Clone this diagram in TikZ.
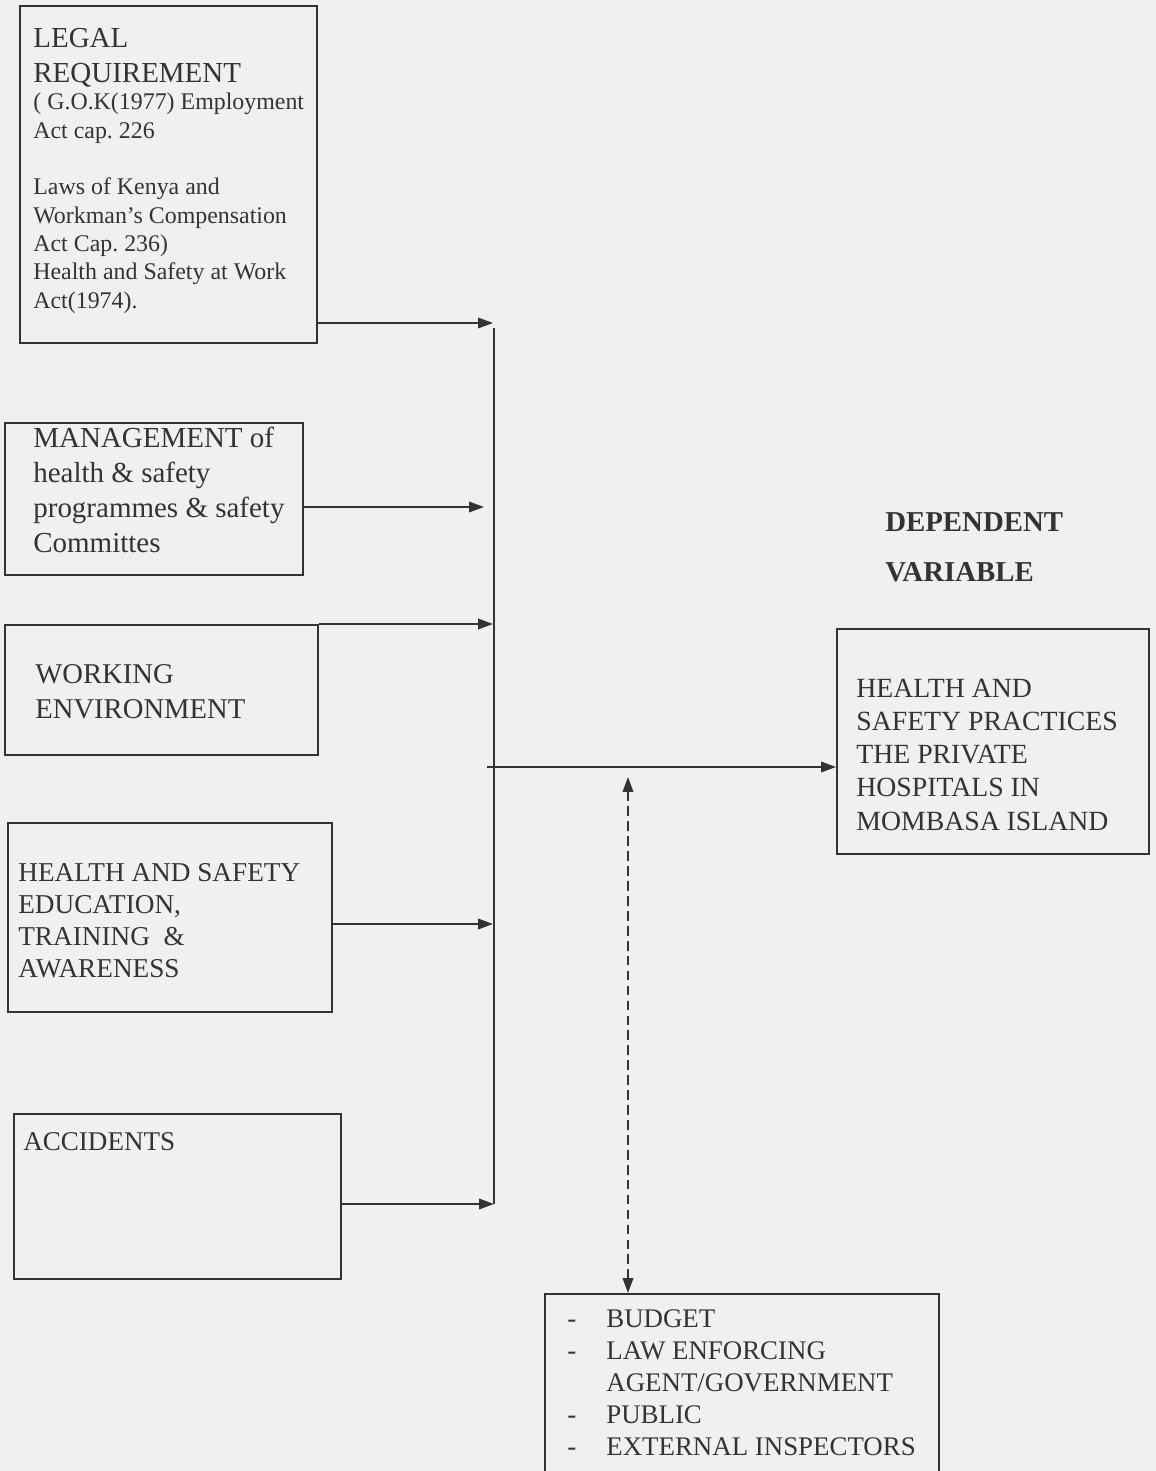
\documentclass[tikz,border=0pt]{standalone}
\usepackage{fontspec}
\setmainfont{Liberation Serif}
\usetikzlibrary{arrows.meta}
\definecolor{ink}{gray}{0.2}
\definecolor{paper}{gray}{0.94}
\tikzset{
  box/.style={draw=ink, line width=1pt, anchor=north west, inner sep=0pt},
  txt/.style={text=ink, anchor=base west, inner sep=0pt, align=left},
  wire/.style={draw=ink, line width=1pt},
  >={Triangle[length=8.5pt,width=6pt]}
}
\newcommand{\dashitem}[1]{\makebox[22.2pt][l]{-}#1}
\frenchspacing

\begin{document}
\begin{tikzpicture}[x=0.02cm, y=-0.02cm]
\useasboundingbox (0,0) rectangle (1156,1471);
\clip (0,0) rectangle (1156,1471);
\fill[paper] (0,0) rectangle (1156,1471);

% independent variables
\node[box, minimum width=5.94cm, minimum height=6.74cm] (legal) at (19,5) {};
\node[box, minimum width=5.96cm, minimum height=3.04cm] (mgmt) at (4,422) {};
\node[box, minimum width=6.26cm, minimum height=2.60cm] (work) at (4,624) {};
\node[box, minimum width=6.48cm, minimum height=3.78cm] (hse) at (7,822) {};
\node[box, minimum width=6.54cm, minimum height=3.30cm] (acc) at (13,1113) {};

% dependent variable and intervening box
\node[box, minimum width=6.24cm, minimum height=4.50cm] (dv) at (836,628) {};
\node[box, minimum width=7.88cm, minimum height=3.80cm] (ext) at (544,1293) {};

% texts (placed by the baseline of their last line)
\node[txt, font=\fontsize{16.5}{19.9}\selectfont] (legalhead) at (33,82) {LEGAL\\REQUIREMENT};
\node[txt, font=\fontsize{13.6}{16.1}\selectfont] (legalacts) at (33,308) {( G.O.K(1977) Employment\\Act cap. 226\\[16.1pt]Laws of Kenya and\\Workman's Compensation\\Act Cap. 236)\\Health and Safety at Work\\Act(1974).};
\node[txt, font=\fontsize{16.5}{19.9}\selectfont] (mgmttxt) at (33,552) {MANAGEMENT of\\health \& safety\\programmes \& safety\\Committes};
\node[txt, font=\fontsize{16.3}{19.9}\selectfont] (worktxt) at (35,718) {WORKING\\ENVIRONMENT};
\node[txt, font=\fontsize{15.5}{18.2}\selectfont] (hsetxt) at (18,977) {HEALTH AND SAFETY\\EDUCATION,\\TRAINING \ \&\\AWARENESS};
\node[txt, font=\fontsize{15.4}{18.2}\selectfont] (acctxt) at (23,1150) {ACCIDENTS};
\node[txt, font=\bfseries\fontsize{16.4}{27.9}\selectfont] (dvhead) at (885,581) {DEPENDENT\\VARIABLE};
\node[txt, font=\fontsize{15.8}{18.8}\selectfont] (dvtxt) at (856,830) {HEALTH AND\\SAFETY PRACTICES\\THE PRIVATE\\HOSPITALS IN\\MOMBASA ISLAND};
\node[txt, font=\fontsize{15.3}{18.1}\selectfont] (exttxt) at (567,1455) {\dashitem{BUDGET}\\\dashitem{LAW ENFORCING}\\\hspace{22.2pt}AGENT/GOVERNMENT\\\dashitem{PUBLIC}\\\dashitem{EXTERNAL INSPECTORS}};

\coordinate (trunktop) at (494,328);
\coordinate (trunkbot) at (494,1204);
\coordinate (j1) at (493,323);
\coordinate (j2) at (484,507);
\coordinate (j3) at (493,626);
\coordinate (j4) at (493,924);
\coordinate (hub) at (487,767);
\coordinate (mid) at (628,777);

\draw[wire] (trunktop) -- (trunkbot);
\draw[wire,->] (legal.east |- j1) -- (j1);
\draw[wire,->] (mgmt.east |- j2) -- (j2);
\draw[wire,->] (work.north east) -- (work.north east -| j3);
\draw[wire,->] (hse.east |- j4) -- (j4);
\draw[wire,->] (acc.east |- trunkbot) -- (trunkbot);
\draw[wire,->] (hub) -- (dv.west |- hub);
\draw[wire,<->,dash pattern=on 5.5pt off 3pt] (mid) -- (ext.north -| mid);
\end{tikzpicture}
\end{document}
